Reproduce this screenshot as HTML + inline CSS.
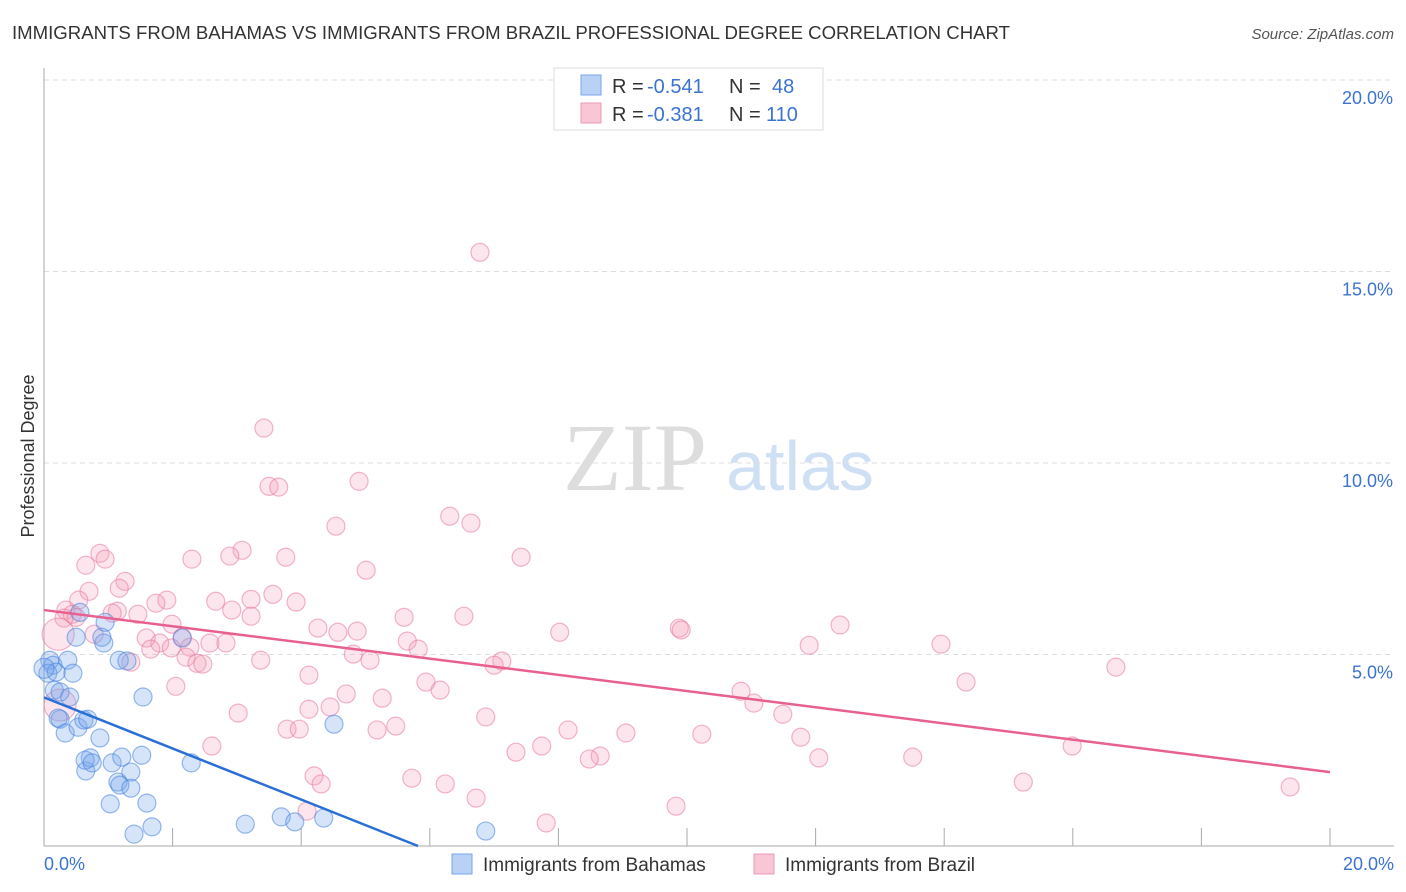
<!DOCTYPE html>
<html><head><meta charset="utf-8"><style>
body{margin:0;background:#fff;font-family:"Liberation Sans",sans-serif}
svg{display:block}
</style></head><body>
<svg id="chart" width="1406" height="892" xmlns="http://www.w3.org/2000/svg">
<text x="12" y="39" font-size="18.6" fill="#333">IMMIGRANTS FROM BAHAMAS VS IMMIGRANTS FROM BRAZIL PROFESSIONAL DEGREE CORRELATION CHART</text>
<text x="1394" y="39" font-size="15" fill="#555" font-style="italic" text-anchor="end">Source: ZipAtlas.com</text>
<g>
<text x="635" y="490" font-family="Liberation Serif,serif" font-size="96" fill="#ddd" text-anchor="middle">ZIP</text>
<text x="800" y="490" font-size="70" fill="#cfe0f5" text-anchor="middle">atlas</text>
</g>
<g id="grid"></g>
<g id="axes"></g>
<g id="marks"></g>
<text transform="translate(34,456) rotate(-90)" font-size="18" fill="#333" text-anchor="middle">Professional Degree</text>
<g>
<rect x="554" y="68" width="269" height="62" fill="#fff" stroke="#ddd"/>
<rect x="581" y="75" width="20" height="20" fill="#b8d1f5" stroke="#7aa6e8"/>
<rect x="581" y="103" width="20" height="20" fill="#f9c6d6" stroke="#ec9ab5"/>
<text x="612" y="93" font-size="20" fill="#333">R =</text>
<text x="647" y="93" font-size="20" fill="#3b73d0">-0.541</text>
<text x="729" y="93" font-size="20" fill="#333">N =</text>
<text x="772" y="93" font-size="20" fill="#3b73d0">48</text>
<text x="612" y="121" font-size="20" fill="#333">R =</text>
<text x="647" y="121" font-size="20" fill="#3b73d0">-0.381</text>
<text x="729" y="121" font-size="20" fill="#333">N =</text>
<text x="766" y="121" font-size="20" fill="#3b73d0">110</text>
</g>
<g>
<rect x="452" y="854" width="20" height="20" fill="#b8d1f5" stroke="#7aa6e8"/>
<text x="483" y="871" font-size="19" fill="#333">Immigrants from Bahamas</text>
<rect x="754" y="854" width="20" height="20" fill="#f9c6d6" stroke="#ec9ab5"/>
<text x="785" y="871" font-size="19" fill="#333">Immigrants from Brazil</text>
</g>
</svg>
<script>
const yTicks=[5,10,15,20];
const yTickLabels=["5.0%","10.0%","15.0%","20.0%"];
const xTicks=[0,2,4,6,8,10,12,14,16,18,20];
const xEndLabels=["0.0%","20.0%"];
const bahamasX=[0.09,0.14,0.06,0.16,0.25,0.19,0.37,0.45,0.40,0.25,0.33,0.53,0.62,0.68,0.22,0.93,0.87,1.17,1.29,0.90,0.95,0.56,0.50,1.54,2.15,0.65,0.72,0.64,0.75,1.06,1.21,1.52,1.15,1.35,1.18,1.35,1.03,1.60,1.40,1.68,2.29,3.13,3.69,3.90,4.35,4.51,6.87,0.0];
const bahamasY=[4.85,4.72,4.51,4.07,4.02,4.54,4.85,4.51,3.89,3.31,2.95,3.10,3.29,3.31,3.34,5.30,2.82,4.85,4.83,5.45,5.84,6.10,5.45,3.89,5.43,1.96,2.30,2.24,2.17,2.17,2.32,2.37,1.67,1.93,1.59,1.51,1.10,1.12,0.31,0.50,2.17,0.57,0.76,0.63,0.73,3.18,0.39,4.64];
const brazilX=[6.78,3.42,4.90,3.50,3.65,6.31,6.64,4.54,3.08,0.87,7.42,2.30,3.76,2.89,0.95,5.01,0.65,1.26,1.17,0.70,3.56,0.54,3.92,2.67,3.22,1.91,1.74,0.34,0.44,2.92,5.60,6.53,1.14,1.06,1.46,3.22,0.50,0.31,1.99,4.26,4.57,4.87,9.88,9.91,8.02,12.38,0.78,1.59,2.15,1.80,2.58,2.83,1.66,5.65,5.82,11.90,13.95,2.27,1.98,4.81,0.22,2.21,2.38,2.47,5.07,3.37,1.35,7.12,7.00,16.67,4.12,5.94,2.05,6.16,14.34,4.70,5.26,10.84,11.04,4.12,3.02,11.49,6.87,0.25,4.45,5.18,5.47,3.78,3.97,8.15,9.05,10.23,11.77,2.61,7.74,7.34,8.65,8.48,12.05,13.51,15.99,4.20,5.72,4.31,6.24,15.23,6.72,19.38,9.83,7.81,4.09];
const brazilY=[15.50,10.91,9.52,9.39,9.37,8.61,8.43,8.35,7.72,7.64,7.54,7.49,7.54,7.57,7.49,7.20,7.33,6.91,6.73,6.65,6.57,6.42,6.37,6.39,6.44,6.42,6.34,6.16,6.05,6.16,5.97,6.00,6.13,6.08,6.05,6.00,5.97,5.95,5.79,5.69,5.58,5.61,5.69,5.64,5.58,5.77,5.53,5.43,5.45,5.30,5.30,5.30,5.14,5.35,5.14,5.24,5.27,5.19,5.17,5.01,5.53,4.93,4.77,4.75,4.85,4.85,4.80,4.83,4.72,4.67,4.46,4.28,4.17,4.07,4.28,3.97,3.86,4.04,3.73,3.57,3.47,3.44,3.37,3.68,3.63,3.03,3.13,3.05,3.05,3.03,2.95,2.92,2.84,2.61,2.61,2.45,2.35,2.27,2.30,2.32,2.61,1.83,1.77,1.62,1.62,1.67,1.25,1.54,1.04,0.60,0.91];
const bigBrazil=[60,83];
const bahamasTrend=[3.88,-0.667];
const brazilTrend=[6.16,-0.2115];
const NS="http://www.w3.org/2000/svg";
const X0=44,X1=1330,Y0=846,Y20=80;
function sx(v){return X0+(X1-X0)*v/20;}
function sy(v){return Y0-(Y0-Y20)*v/20;}
function mk(tag,attrs,parent){const e=document.createElementNS(NS,tag);for(const k in attrs)e.setAttribute(k,attrs[k]);parent.appendChild(e);return e;}
const grid=document.getElementById('grid'),axes=document.getElementById('axes'),marks=document.getElementById('marks');
yTicks.forEach((t,i)=>{
 const l=mk('line',{x1:X0,x2:1394,y1:sy(t),y2:sy(t),stroke:'#ddd','stroke-dasharray':'5,4'},grid);
 
 
 const tx=mk('text',{x:1393,y:sy(t)+24,'font-size':18,fill:'#3b73d0','text-anchor':'end'},axes);
 tx.textContent=yTickLabels[i];
 
 
});
const ax=mk('line',{x1:X0,x2:X0,y1:68,y2:Y0,stroke:'#aaa'},axes);


const bx=mk('line',{x1:X0,x2:1394,y1:Y0,y2:Y0,stroke:'#aaa'},axes);


xTicks.forEach(t=>{
 const l=mk('line',{x1:sx(t),x2:sx(t),y1:828,y2:Y0,stroke:'#aaa'},axes);
 
 
});
[[0,'start',44],[20,'end',1394]].forEach((d,i)=>{
 const tx=mk('text',{x:d[2],y:870,'font-size':18,fill:'#3b73d0','text-anchor':d[1]},axes);
 tx.textContent=xEndLabels[i];
 
 
});
brazilX.forEach((x,i)=>{
 const r=bigBrazil.includes(i)?16:9;
 const c=mk('circle',{cx:sx(x),cy:sy(brazilY[i]),r:r,fill:'rgba(244,160,188,0.28)',stroke:'rgba(232,120,160,0.55)','stroke-width':1.2},marks);
 
 
});
bahamasX.forEach((x,i)=>{
 const c=mk('circle',{cx:sx(x),cy:sy(bahamasY[i]),r:i==47?10:9,fill:'rgba(120,165,235,0.3)',stroke:'rgba(70,130,220,0.55)','stroke-width':1.2},marks);
 
 
});
const bEnd=-bahamasTrend[0]/bahamasTrend[1];
const bl=mk('line',{x1:sx(0),y1:sy(bahamasTrend[0]),x2:sx(bEnd),y2:sy(0),stroke:'#2a6fd6','stroke-width':2.5},marks);


const pl=mk('line',{x1:sx(0),y1:sy(brazilTrend[0]),x2:sx(20),y2:sy(brazilTrend[0]+20*brazilTrend[1]),stroke:'#e8608f','stroke-width':2.5},marks);


</script>
</body></html>
